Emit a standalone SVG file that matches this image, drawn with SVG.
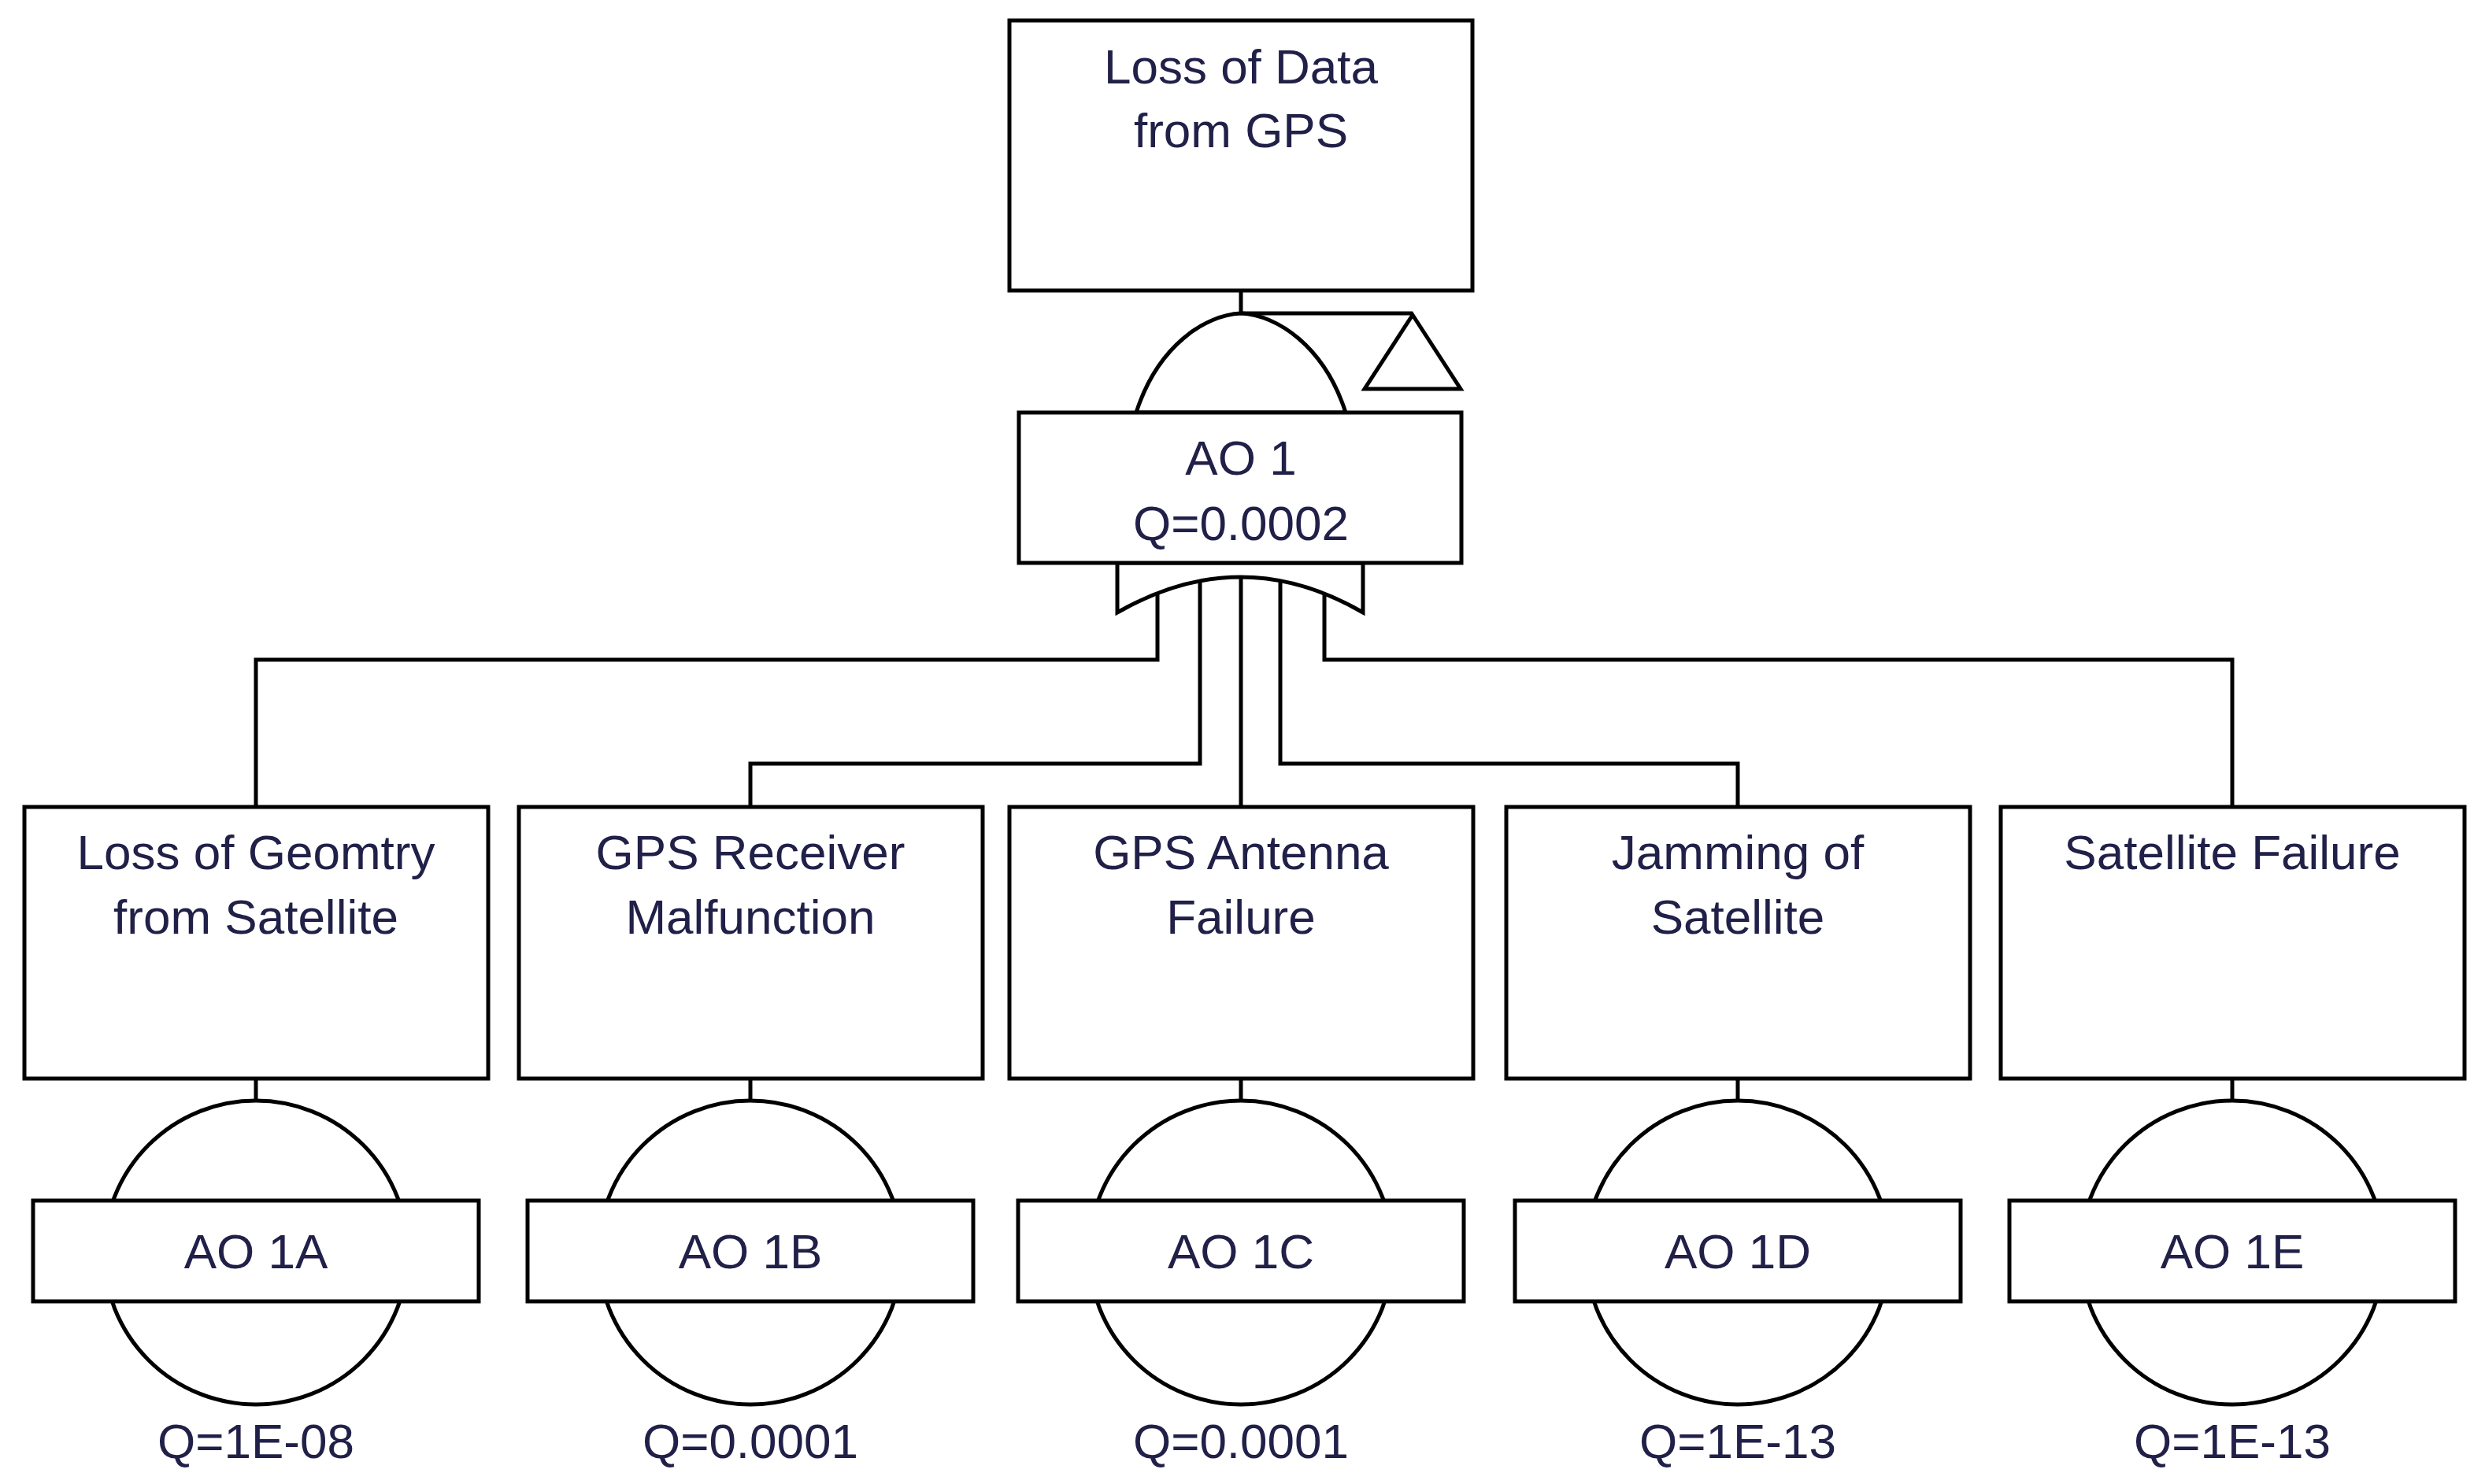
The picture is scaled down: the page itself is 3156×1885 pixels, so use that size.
<svg xmlns="http://www.w3.org/2000/svg" width="3156" height="1885" viewBox="0 0 3156 1885">
<style>
.b{fill:#fff;stroke:#000;stroke-width:5}
.l{fill:none;stroke:#000;stroke-width:5}
text{font-family:"Liberation Sans",Arial,sans-serif;font-size:62px;fill:#202048;text-anchor:middle}
</style>
<rect width="3156" height="1885" fill="#fff"/>
<g id="connectors">
<path class="l" d="M1576 369V398H1794"/>
<path class="l" d="M1470 752V838H325V1025"/>
<path class="l" d="M1524 738V970H953V1025"/>
<path class="l" d="M1576 733V1025"/>
<path class="l" d="M1626 738V970H2207V1025"/>
<path class="l" d="M1682 752V838H2835V1025"/>
</g>
<g id="top">
<rect class="b" x="1282" y="26" width="588" height="343"/>
<text x="1576" y="106">Loss of Data</text>
<text x="1576" y="187">from GPS</text>
</g>
<g id="gate_AO1">
<path class="b" d="M1443 524C1470 440 1530 400 1576 398C1622 400 1682 440 1709 524Z"/>
<polygon class="b" points="1794,400 1733,494 1855,494"/>
<path class="b" d="M1419 715V778Q1576 688 1731 778V715Z"/>
<rect class="b" x="1294" y="524" width="562" height="191"/>
<text x="1576" y="603">AO 1</text>
<text x="1576" y="686">Q=0.0002</text>
</g>
<g id="n1">
<rect class="b" x="31" y="1025" width="589" height="345"/>
<text x="325" y="1104">Loss of Geomtry</text><text x="325" y="1186">from Satellite</text>
<line class="l" x1="325" y1="1370" x2="325" y2="1398"/>
<circle class="b" cx="325" cy="1591" r="193"/>
<rect class="b" x="42" y="1525" width="566" height="128"/>
<text x="325" y="1611">AO 1A</text><text x="325" y="1852">Q=1E-08</text>
</g>
<g id="n2">
<rect class="b" x="659" y="1025" width="589" height="345"/>
<text x="953" y="1104">GPS Receiver</text><text x="953" y="1186">Malfunction</text>
<line class="l" x1="953" y1="1370" x2="953" y2="1398"/>
<circle class="b" cx="953" cy="1591" r="193"/>
<rect class="b" x="670" y="1525" width="566" height="128"/>
<text x="953" y="1611">AO 1B</text><text x="953" y="1852">Q=0.0001</text>
</g>
<g id="n3">
<rect class="b" x="1282" y="1025" width="589" height="345"/>
<text x="1576" y="1104">GPS Antenna</text><text x="1576" y="1186">Failure</text>
<line class="l" x1="1576" y1="1370" x2="1576" y2="1398"/>
<circle class="b" cx="1576" cy="1591" r="193"/>
<rect class="b" x="1293" y="1525" width="566" height="128"/>
<text x="1576" y="1611">AO 1C</text><text x="1576" y="1852">Q=0.0001</text>
</g>
<g id="n4">
<rect class="b" x="1913" y="1025" width="589" height="345"/>
<text x="2207" y="1104">Jamming of</text><text x="2207" y="1186">Satellite</text>
<line class="l" x1="2207" y1="1370" x2="2207" y2="1398"/>
<circle class="b" cx="2207" cy="1591" r="193"/>
<rect class="b" x="1924" y="1525" width="566" height="128"/>
<text x="2207" y="1611">AO 1D</text><text x="2207" y="1852">Q=1E-13</text>
</g>
<g id="n5">
<rect class="b" x="2541" y="1025" width="589" height="345"/>
<text x="2835" y="1104">Satellite Failure</text>
<line class="l" x1="2835" y1="1370" x2="2835" y2="1398"/>
<circle class="b" cx="2835" cy="1591" r="193"/>
<rect class="b" x="2552" y="1525" width="566" height="128"/>
<text x="2835" y="1611">AO 1E</text><text x="2835" y="1852">Q=1E-13</text>
</g>
</svg>
